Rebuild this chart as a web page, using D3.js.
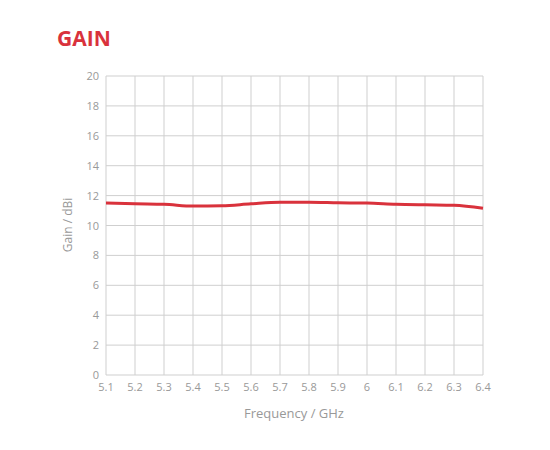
<!DOCTYPE html><html><head><meta charset="utf-8"><script src="https://cdn.jsdelivr.net/npm/d3@7"></script>
<style>body{margin:0;background:#fff}</style></head><body><script>
const freqs=[5.1,5.2,5.3,5.4,5.5,5.6,5.7,5.8,5.9,6.0,6.1,6.2,6.3,6.4];
const gains=[11.5,11.45,11.42,11.3,11.32,11.45,11.55,11.55,11.52,11.5,11.42,11.38,11.35,11.15];
const yTicks=[0,2,4,6,8,10,12,14,16,18,20];
const svg=d3.select("body").append("svg").attr("width",550).attr("height",450).style("font-family","'Open Sans',sans-serif");
const x=d3.scaleLinear().domain([5.1,6.4]).range([106,483]);
const y=d3.scaleLinear().domain([0,20]).range([375,76]);
const grid="#cfcfcf";
svg.append("g").selectAll("line").data(freqs).join("line").attr("x1",d=>x(d)).attr("x2",d=>x(d)).attr("y1",76).attr("y2",375).attr("stroke",grid);
svg.append("g").selectAll("line").data(yTicks).join("line").attr("x1",106).attr("x2",483).attr("y1",d=>y(d)).attr("y2",d=>y(d)).attr("stroke",grid);
svg.append("g").selectAll("text").data(yTicks).join("text").attr("x",99).attr("y",d=>y(d)+4).attr("text-anchor","end").attr("font-size",11).attr("fill","#999").text(d=>d);
svg.append("g").selectAll("text").data(freqs).join("text").attr("x",d=>x(d)).attr("y",391).attr("text-anchor","middle").attr("font-size",11).attr("fill","#999").text(d=>d===6?"6":d.toFixed(1));
svg.append("path").datum(freqs.map((f,i)=>[f,gains[i]])).attr("d",d3.line().x(d=>x(d[0])).y(d=>y(d[1])).curve(d3.curveMonotoneX)).attr("fill","none").attr("stroke","#d9323c").attr("stroke-width",3);
svg.append("text").attr("x",57).attr("y",46).attr("font-size",21).attr("font-weight","bold").attr("fill","#d9323c").text("GAIN");
svg.append("text").attr("x",294).attr("y",418).attr("text-anchor","middle").attr("font-size",13).attr("fill","#999").text("Frequency / GHz");
svg.append("text").attr("transform","translate(72,225) rotate(-90)").attr("text-anchor","middle").attr("font-size",12).attr("fill","#999").text("Gain / dBi");
</script></body></html>
